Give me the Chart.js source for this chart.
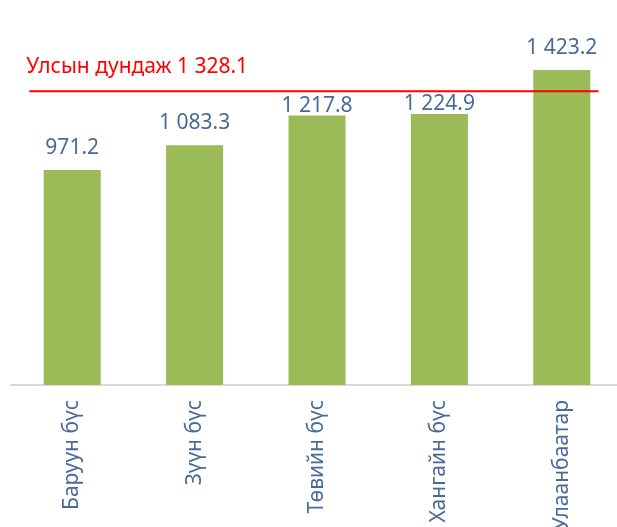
<!DOCTYPE html>
<html>
<head>
<meta charset="utf-8">
<script src="https://cdn.jsdelivr.net/npm/chart.js@4"></script>
<style>
    html, body { margin: 0; padding: 0; background: #fff; overflow: hidden; }
    #wrap { width: 623px; height: 527px; }
</style>
</head>
<body>
<div id="wrap"><canvas id="chart" width="623" height="527"></canvas></div>
<script>
// ------------------------
// DATA
// ------------------------

const regions = ["Баруун бүс", "Зүүн бүс", "Төвийн бүс", "Хангайн бүс", "Улаанбаатар"];
const values = [971.2, 1083.3, 1217.8, 1224.9, 1423.2];

const nationalAvg = 1328.1;
const nationalLabel = "Улсын дундаж";

const labelColor = "#4A6A9A";
const fontFamily = "'Noto Sans', sans-serif";

// 1 328.1 style
function fmt(v) {
    const parts = v.toFixed(1).split(".");
    parts[0] = parts[0].replace(/\B(?=(\d{3})+(?!\d))/g, " ");
    return parts.join(".");
}

// ------------------------
// PLUGINS
// ------------------------

const valueLabels = {
    id: "valueLabels",
    afterDatasetsDraw(chart) {
        const ctx = chart.ctx;
        const meta = chart.getDatasetMeta(0);
        const lineY = chart.scales.y.getPixelForValue(nationalAvg);
        const capH = 15;
        ctx.save();
        ctx.font = "21px " + fontFamily;
        ctx.fillStyle = labelColor;
        ctx.textAlign = "center";
        ctx.textBaseline = "alphabetic";
        meta.data.forEach((bar, i) => {
            let base = bar.y - 16;
            // push the label below the average line when it would cross it
            if (bar.y > lineY && base - capH < lineY + 10) {
                base = Math.min(bar.y - 4, lineY + 12 + capH);
            }
            ctx.fillText(fmt(values[i]), bar.x, base);
        });
        ctx.restore();
    }
};

const avgLine = {
    id: "avgLine",
    afterDatasetsDraw(chart) {
        const ctx = chart.ctx;
        const x = chart.scales.x;
        const y = chart.scales.y;
        const yPos = y.getPixelForValue(nationalAvg);
        const x1 = x.getPixelForValue(-0.35);
        const x2 = x.getPixelForValue(4.3);

        ctx.save();
        ctx.strokeStyle = "#FF0000";
        ctx.lineWidth = 2;
        ctx.beginPath();
        ctx.moveTo(x1, yPos);
        ctx.lineTo(x2, yPos);
        ctx.stroke();

        ctx.font = "21px " + fontFamily;
        ctx.fillStyle = "#FF0000";
        ctx.textAlign = "left";
        ctx.textBaseline = "alphabetic";
        ctx.fillText(nationalLabel + " " + fmt(nationalAvg), x1 - 3, yPos - 18);
        ctx.restore();
    }
};

// ------------------------
// CHART
// ------------------------

new Chart(document.getElementById("chart"), {
    type: "bar",
    data: {
        labels: regions,
        datasets: [{
            data: values,
            backgroundColor: "#9BBB59",
            barPercentage: 0.466,
            categoryPercentage: 1
        }]
    },
    options: {
        responsive: false,
        animation: false,
        devicePixelRatio: 1,
        layout: { padding: { left: 11, top: 31, right: 0, bottom: 0 } },
        plugins: {
            legend: { display: false },
            tooltip: { enabled: false }
        },
        scales: {
            x: {
                grid: { display: false, drawTicks: false },
                border: { display: true, color: "#D9D9D9", width: 2 },
                ticks: {
                    color: labelColor,
                    font: { family: fontFamily, size: 21 },
                    minRotation: 90,
                    maxRotation: 90,
                    padding: 15,
                    autoSkip: false
                },
                afterFit: s => { s.height = 142; }
            },
            y: {
                display: false,
                min: 0,
                max: 1600
            }
        }
    },
    plugins: [avgLine, valueLabels]
});
</script>
</body>
</html>
